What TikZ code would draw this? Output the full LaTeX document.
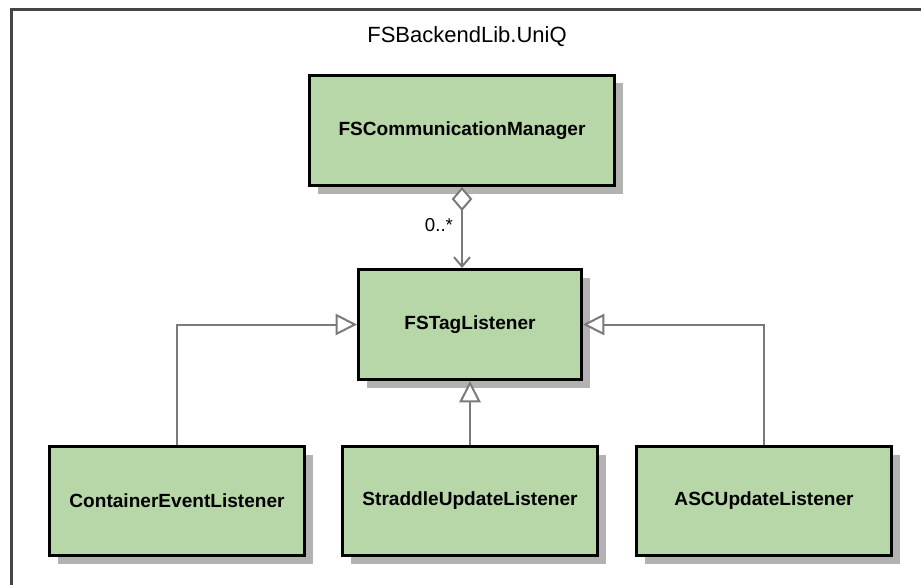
\documentclass[tikz,border=0pt]{standalone}
\usepackage{fontspec}
\setmainfont{Liberation Sans}
\usepackage{tikz}
\usetikzlibrary{arrows.meta,positioning,shadows}

\definecolor{clsgreen}{RGB}{183,215,168}
\definecolor{shadegray}{RGB}{178,178,178}
\definecolor{framegray}{RGB}{68,68,68}
\definecolor{linkgray}{RGB}{122,122,122}

\begin{document}
\begin{tikzpicture}[x=0.75pt, y=-0.75pt, semithick]
	\tikzstyle{cls}=[draw=black, line width=2.25pt, fill=clsgreen, minimum height=82.5pt,
		font=\fontsize{14.3}{17}\selectfont\bfseries,
		drop shadow={shadow xshift=6pt, shadow yshift=-6pt, fill=shadegray, opacity=1}]
	\tikzstyle{gen}=[draw=linkgray, line width=1.5pt, -{Triangle[fill=white, length=16pt, width=16pt]}]
	\tikzstyle{agg}=[draw=linkgray, line width=1.5pt,
		{Diamond[fill=white, length=18pt, width=15.5pt]}-{Straight Barb[length=7pt, width=12pt]}]
	\useasboundingbox (0,0) rectangle (921,585);
	\draw[framegray, line width=2.25pt] (11.5,10) rectangle (940,600);
	\node[anchor=base, font=\fontsize{16.5}{20}\selectfont] (pkg) at (467,43) {FSBackendLib.UniQ};

	\node[cls, minimum width=228.75pt] (comm) at (462,130.5) {FSCommunicationManager};
	\node[cls, minimum width=167.25pt] (tag) [below=60.75pt of comm, xshift=6pt] {FSTagListener};
	\node[cls, minimum width=191.25pt, minimum height=81.75pt] (strad) [below=48pt of tag] {StraddleUpdateListener};
	\node[cls, minimum width=191.25pt, minimum height=81.75pt] (cont) [left=26.25pt of strad] {ContainerEventListener};
	\node[cls, minimum width=191.25pt, minimum height=81.75pt] (asc) [right=27pt of strad] {ASCUpdateListener};

	\draw[agg] (comm.south) -- (comm.south |- tag.north)
		node[left, pos=0.47, inner sep=6pt, font=\fontsize{14}{17}\selectfont] {0..*};
	\draw[gen] (cont.north) |- (tag.west);
	\draw[gen] (strad) -- (tag);
	\draw[gen] (asc.north) |- (tag.east);
\end{tikzpicture}
\end{document}
